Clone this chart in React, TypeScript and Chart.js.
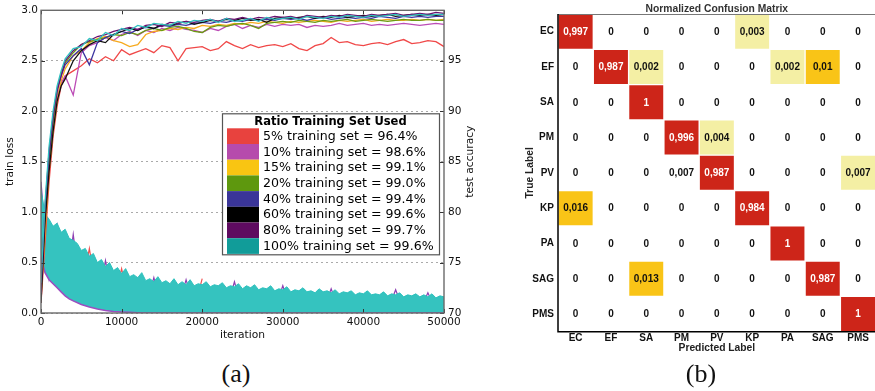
import React, { useEffect, useRef } from 'react';
import { Chart, registerables } from 'chart.js';

Chart.register(...registerables);

// ---------------- (a) training curves ----------------
const seriesNames = ['5%', '10%', '15%', '20%', '40%', '60%', '80%', '100%'];
const finalAccuracy = [96.4, 98.6, 99.1, 99.0, 99.4, 99.6, 99.7, 99.6];

const accIters = [
  0, 500, 1000, 1500, 2000, 2500, 3000,
  4000, 5000, 6000, 7000, 8000, 9000, 10000, 11000, 12000, 13000,
  14000, 15000, 16000, 17000, 18000, 19000, 20000, 21000, 22000, 23000,
  24000, 25000, 26000, 27000, 28000, 29000, 30000, 31000, 32000, 33000,
  34000, 35000, 36000, 37000, 38000, 39000, 40000, 41000, 42000, 43000,
  44000, 45000, 46000, 47000, 48000, 49000, 50000,
];

const acc5 = [
  71, 77, 83, 87.5, 90.5, 92.5, 93.5,
  94.0, 94.5, 95.2, 94.8, 95.4, 95.0, 96.1, 95.6, 95.9, 96.2,
  95.8, 96.5, 96.3, 95.0, 96.2, 96.3, 96.4, 96.0, 96.2, 96.9,
  96.5, 96.2, 96.6, 96.3, 96.5, 96.6, 96.4, 96.7, 96.2, 96.0,
  96.5, 96.7, 97.3, 96.8, 96.9, 96.6, 96.5, 96.7, 96.8, 96.6,
  96.9, 97.1, 96.7, 96.8, 97.0, 96.9, 96.4,
];
const acc10 = [
  73, 80, 85.5, 89, 91.5, 92.8, 93.5,
  91.6, 95.8, 96.5, 96.8, 97.3, 97.0, 97.6, 97.9, 97.5, 98.0,
  97.8, 98.2, 98.0, 98.3, 98.1, 98.0, 97.8, 98.2, 98.0, 98.4,
  98.6, 98.2, 98.5, 98.3, 98.6, 98.4, 98.6, 98.5, 98.6, 98.3,
  98.5, 98.4, 98.5, 98.7, 98.5, 98.6, 98.7, 98.5, 98.6, 98.5,
  98.6, 98.7, 98.6, 98.5, 98.6, 98.7, 98.6,
];
const acc15 = [
  71.5, 78, 84, 88, 91, 93, 94.2,
  95.5, 96.0, 96.8, 97.2, 97.4, 97.0, 96.8, 96.4, 96.6, 97.6,
  97.9, 98.0, 98.2, 98.1, 98.3, 98.2, 98.5, 98.4, 98.6, 98.5,
  98.7, 98.6, 98.8, 98.7, 98.9, 98.8, 98.7, 98.9, 98.8, 98.9,
  99.0, 98.9, 98.8, 99.0, 98.9, 99.0, 99.1, 98.9, 99.0, 99.1,
  99.0, 99.0, 99.1, 99.0, 99.1, 99.0, 99.1,
];
const acc20 = [
  72, 79.5, 85, 89, 92, 93.8, 94.8,
  95.8, 96.6, 96.9, 97.1, 97.3, 97.6, 97.5, 97.8, 97.6, 98.0,
  98.2, 98.0, 98.3, 98.4, 98.2, 97.9, 97.8, 98.3, 98.5, 98.4,
  98.6, 98.7, 98.5, 98.2, 98.7, 98.8, 98.9, 98.8, 99.0, 98.9,
  98.8, 99.0, 98.9, 99.0, 99.1, 98.9, 99.0, 99.1, 99.0, 98.9,
  99.0, 99.1, 99.0, 99.0, 99.1, 99.0, 99.0,
];
const acc40 = [
  72.5, 80, 85.5, 89.5, 92.2, 93.5, 94.6,
  95.5, 96.2, 94.6, 96.8, 97.3, 97.6, 97.9, 97.7, 98.1, 98.3,
  98.2, 98.5, 98.4, 98.6, 98.5, 98.7, 98.8, 98.7, 98.9, 98.8,
  99.0, 98.9, 99.1, 99.0, 99.1, 99.0, 99.2, 99.1, 99.2, 99.0,
  99.2, 99.3, 99.1, 99.2, 99.3, 99.2, 99.3, 99.2, 99.4, 99.3,
  99.2, 99.4, 99.3, 99.4, 99.3, 99.4, 99.4,
];
const acc60 = [
  71, 79, 84, 88, 91, 92.5, 93.2,
  95.0, 96.0, 96.6, 97.0, 96.8, 97.6, 97.9, 98.2, 98.0, 98.4,
  98.2, 98.6, 98.5, 98.7, 98.9, 98.6, 98.8, 99.0, 98.9, 99.1,
  99.0, 99.2, 99.0, 99.1, 98.8, 99.2, 99.3, 99.2, 99.3, 99.4,
  99.2, 99.4, 99.3, 99.5, 99.3, 99.4, 99.5, 99.4, 99.5, 99.6,
  99.4, 99.5, 99.6, 99.5, 99.6, 99.5, 99.6,
];
const acc80 = [
  72, 80.5, 86, 89.5, 92, 93.5, 95,
  96.0, 96.6, 97.0, 97.4, 97.6, 97.9, 98.1, 98.3, 98.1, 98.5,
  98.6, 98.4, 98.8, 98.7, 98.9, 98.8, 99.0, 99.1, 98.9, 99.2,
  99.1, 99.3, 99.1, 99.3, 99.2, 99.4, 99.3, 99.4, 99.2, 99.5,
  99.4, 99.3, 99.5, 99.4, 99.6, 99.5, 99.4, 99.6, 99.5, 99.6,
  99.7, 99.5, 99.6, 99.7, 99.6, 99.8, 99.7,
];
const acc100 = [
  73, 81, 86.5, 90, 92.5, 94, 95.2,
  96.2, 96.4, 97.2, 97.0, 97.8, 97.5, 98.2, 98.0, 98.5, 98.3,
  98.7, 98.6, 98.5, 98.9, 98.7, 99.0, 98.9, 99.1, 98.8, 99.2,
  98.9, 99.0, 99.2, 98.9, 99.3, 99.1, 99.2, 99.3, 99.1, 99.4,
  99.3, 99.2, 99.4, 99.3, 99.5, 99.4, 99.3, 99.5, 99.4, 99.5,
  99.6, 99.4, 99.5, 99.6, 99.5, 99.6, 99.6,
];

const lossIters = [
  0, 500, 1000, 1500, 2000, 2500, 3000, 3500, 4000, 4500,
  5000, 5500, 6000, 6500, 7000, 7500, 8000, 8500, 9000, 9500,
  10000, 10500, 11000, 11500, 12000, 12500, 13000, 13500, 14000, 14500,
  15000, 15500, 16000, 16500, 17000, 17500, 18000, 18500, 19000, 19500,
  20000, 20500, 21000, 21500, 22000, 22500, 23000, 23500, 24000, 24500,
  25000, 25500, 26000, 26500, 27000, 27500, 28000, 28500, 29000, 29500,
  30000, 30500, 31000, 31500, 32000, 32500, 33000, 33500, 34000, 34500,
  35000, 35500, 36000, 36500, 37000, 37500, 38000, 38500, 39000, 39500,
  40000, 40500, 41000, 41500, 42000, 42500, 43000, 43500, 44000, 44500,
  45000, 45500, 46000, 46500, 47000, 47500, 48000, 48500, 49000, 49500,
  50000,
];
// upper edge of the 100% training-loss band
const loss100Upper = [
  1.22, 0.98, 0.93, 0.86, 0.89, 0.80, 0.83, 0.74, 0.72, 0.69,
  0.62, 0.64, 0.56, 0.59, 0.50, 0.53, 0.46, 0.50, 0.42, 0.45,
  0.39, 0.44, 0.36, 0.38, 0.35, 0.40, 0.32, 0.34, 0.31, 0.36,
  0.30, 0.32, 0.29, 0.34, 0.28, 0.31, 0.28, 0.33, 0.27, 0.29,
  0.28, 0.31, 0.26, 0.28, 0.27, 0.30, 0.25, 0.27, 0.26, 0.29,
  0.24, 0.27, 0.25, 0.28, 0.23, 0.25, 0.24, 0.27, 0.22, 0.24,
  0.23, 0.26, 0.21, 0.23, 0.22, 0.25, 0.21, 0.22, 0.20, 0.24,
  0.21, 0.22, 0.20, 0.23, 0.19, 0.21, 0.20, 0.22, 0.18, 0.20,
  0.19, 0.22, 0.18, 0.19, 0.18, 0.21, 0.17, 0.19, 0.18, 0.20,
  0.16, 0.18, 0.17, 0.19, 0.16, 0.18, 0.16, 0.19, 0.15, 0.17,
  0.16,
];
// lower edge of the loss band
const lossLowerIters = [0, 500, 1000, 1500, 2000, 2500, 3000, 3500, 4000, 5000, 6000, 7000, 8000, 9000, 10000, 11000, 12000, 13000, 50000];
const lossLower = [0.55, 0.40, 0.33, 0.29, 0.25, 0.21, 0.17, 0.14, 0.12, 0.085, 0.06, 0.04, 0.025, 0.015, 0.01, 0.006, 0.003, 0, 0];

const lossSpikeIters = [
  0, 1000, 2000, 3000, 4000, 5000, 6000, 7000, 8000, 9000,
  10000, 11000, 12000, 13000, 14000, 15000, 16000, 17000, 18000, 19000,
  20000, 21000, 22000, 23000, 24000, 25000, 26000, 27000, 28000, 29000,
  30000, 31000, 32000, 33000, 34000, 35000, 36000, 37000, 38000, 39000,
  40000, 41000, 42000, 43000, 44000, 45000, 46000, 47000, 48000, 49000,
  50000,
];
const loss80 = [
  1.3, 0.35, 0.86, 0.20, 0.78, 0.15, 0.55, 0.10, 0.52, 0.08,
  0.38, 0.06, 0.34, 0.05, 0.35, 0.05, 0.28, 0.04, 0.33, 0.04,
  0.27, 0.04, 0.26, 0.03, 0.31, 0.03, 0.24, 0.03, 0.23, 0.03,
  0.27, 0.03, 0.21, 0.02, 0.19, 0.02, 0.24, 0.02, 0.19, 0.02,
  0.18, 0.02, 0.17, 0.02, 0.23, 0.02, 0.16, 0.02, 0.20, 0.02,
  0.15,
];
const loss5 = [
  1.2, 0.40, 0.85, 0.25, 0.70, 0.20, 0.64, 0.15, 0.45, 0.10,
  0.44, 0.08, 0.33, 0.06, 0.30, 0.05, 0.28, 0.05, 0.27, 0.04,
  0.34,
];

const accSeries = [acc5, acc10, acc15, acc20, acc40, acc60, acc80, acc100];
const lineColors = ['#F04848', '#BC4CB6', '#F6AA1E', '#6B9B12', '#3C35A0', '#111111', '#6A1070', '#30C2C0'];
const legendColors = ['#E8423E', '#B64BAC', '#F9C512', '#5E980E', '#3A3598', '#000000', '#5E0B60', '#119C99'];
const legendTitle = 'Ratio Training Set Used';
const xTitle = 'iteration';
const yTitle = 'train loss';
const y2Title = 'test accuracy';

// ---------------- (b) confusion matrix ----------------
const cmTitle = 'Normalized Confusion Matrix';
const cmLabels = ['EC', 'EF', 'SA', 'PM', 'PV', 'KP', 'PA', 'SAG', 'PMS'];
const cmValues = [
  [0.997, 0, 0, 0, 0, 0.003, 0, 0, 0],
  [0, 0.987, 0.002, 0, 0, 0, 0.002, 0.01, 0],
  [0, 0, 1, 0, 0, 0, 0, 0, 0],
  [0, 0, 0, 0.996, 0.004, 0, 0, 0, 0],
  [0, 0, 0, 0.007, 0.987, 0, 0, 0, 0.007],
  [0.016, 0, 0, 0, 0, 0.984, 0, 0, 0],
  [0, 0, 0, 0, 0, 0, 1, 0, 0],
  [0, 0, 0.013, 0, 0, 0, 0, 0.987, 0],
  [0, 0, 0, 0, 0, 0, 0, 0, 1],
];
// colour level of each cell as seen in the picture (0 none, 1 pale, 2 gold, 3 red)
const cmShade = [
  [3, 0, 0, 0, 0, 1, 0, 0, 0],
  [0, 3, 1, 0, 0, 0, 1, 2, 0],
  [0, 0, 3, 0, 0, 0, 0, 0, 0],
  [0, 0, 0, 3, 1, 0, 0, 0, 0],
  [0, 0, 0, 0, 3, 0, 0, 0, 1],
  [2, 0, 0, 0, 0, 3, 0, 0, 0],
  [0, 0, 0, 0, 0, 0, 3, 0, 0],
  [0, 0, 2, 0, 0, 0, 0, 3, 0],
  [0, 0, 0, 0, 0, 0, 0, 0, 3],
];
const shadeColors = ['#FFFFFF', '#F4EFA4', '#F9C417', '#CD2519'];

const DV = 'DejaVu Sans';
const LS = 'Liberation Sans';

const leftDecor = {
  id: 'leftDecor',
  afterDatasetsDraw(chart: any) {
    const { ctx, chartArea, scales } = chart;
    const { left, right, top, bottom } = chartArea;
    ctx.save();
    ctx.strokeStyle = '#333';
    ctx.lineWidth = 1;
    ctx.beginPath();
    scales.x.ticks.forEach((t: any) => {
      const px = Math.round(scales.x.getPixelForValue(t.value)) + 0.5;
      ctx.moveTo(px, bottom); ctx.lineTo(px, bottom - 4);
      ctx.moveTo(px, top); ctx.lineTo(px, top + 4);
    });
    scales.y.ticks.forEach((t: any) => {
      const py = Math.round(scales.y.getPixelForValue(t.value)) + 0.5;
      ctx.moveTo(left, py); ctx.lineTo(left + 4, py);
    });
    scales.y2.ticks.forEach((t: any) => {
      const py = Math.round(scales.y2.getPixelForValue(t.value)) + 0.5;
      ctx.moveTo(right, py); ctx.lineTo(right - 4, py);
    });
    ctx.stroke();
    ctx.strokeStyle = '#6a6a6a';
    ctx.lineWidth = 1.4;
    ctx.strokeRect(left, top, right - left, bottom - top);
    ctx.restore();
  },
  afterDraw(chart: any) {
    const { ctx, chartArea } = chart;
    ctx.save();
    // right axis title, reading bottom to top
    ctx.translate(chartArea.right + 26, (chartArea.top + chartArea.bottom) / 2);
    ctx.rotate(-Math.PI / 2);
    ctx.font = `10.7px "${DV}"`;
    ctx.fillStyle = '#111';
    ctx.textAlign = 'center';
    ctx.textBaseline = 'middle';
    ctx.fillText(y2Title, 0, 0);
    ctx.restore();

    // legend
    const bw = 217, bh = 141;
    const bx = chartArea.right - 5 - bw;
    const by = chartArea.top + 103;
    ctx.save();
    ctx.fillStyle = '#fff';
    ctx.fillRect(bx, by, bw, bh);
    ctx.strokeStyle = '#555';
    ctx.lineWidth = 1.2;
    ctx.strokeRect(bx + 0.5, by + 0.5, bw, bh);
    ctx.fillStyle = '#000';
    ctx.textBaseline = 'middle';
    ctx.textAlign = 'center';
    ctx.font = `bold 11.5px "${DV}"`;
    ctx.fillText(legendTitle, bx + bw / 2, by + 9);
    const rowH = 15.7;
    const r0 = by + 15;
    ctx.textAlign = 'left';
    ctx.font = `12.6px "${DV}"`;
    seriesNames.forEach((name, i) => {
      ctx.fillStyle = legendColors[i];
      ctx.fillRect(bx + 5, r0 + i * rowH, 32, rowH);
      ctx.fillStyle = '#000';
      ctx.fillText(`${name} training set = ${finalAccuracy[i].toFixed(1)}%`, bx + 41, r0 + i * rowH + rowH / 2 + 0.5);
    });
    ctx.restore();
  },
};

function LossChart() {
  const ref = useRef<HTMLCanvasElement>(null);
  useEffect(() => {
    const drawOrder = [7, 6, 5, 4, 3, 2, 1, 0];
    const accDatasets = drawOrder.map((i) => ({
      label: `${seriesNames[i]} accuracy`,
      data: accIters.map((x, k) => ({ x, y: accSeries[i][k] })),
      yAxisID: 'y2',
      borderColor: lineColors[i],
      borderWidth: 1.3,
      pointRadius: 0,
      tension: 0,
      fill: false,
    }));
    const lowerIdx = accDatasets.length;
    const datasets: any[] = [
      ...accDatasets,
      {
        label: 'loss lower',
        data: lossLowerIters.map((x, k) => ({ x, y: lossLower[k] })),
        yAxisID: 'y',
        borderColor: '#9C4EC0',
        borderWidth: 1.6,
        pointRadius: 0,
        fill: false,
      },
      {
        label: '100% loss',
        data: lossIters.map((x, k) => ({ x, y: loss100Upper[k] })),
        yAxisID: 'y',
        borderColor: '#2FC1BD',
        backgroundColor: '#35C3BF',
        borderWidth: 1,
        pointRadius: 0,
        fill: lowerIdx,
      },
      {
        label: '80% loss',
        data: lossSpikeIters.map((x, k) => ({ x, y: loss80[k] })),
        yAxisID: 'y',
        borderColor: '#8E3FB3',
        borderWidth: 1.2,
        pointRadius: 0,
        fill: false,
      },
      {
        label: '5% loss',
        data: loss5.map((y, k) => ({ x: lossSpikeIters[k], y })),
        yAxisID: 'y',
        borderColor: '#F05050',
        borderWidth: 1.2,
        pointRadius: 0,
        fill: false,
      },
    ];
    const tickFont = { family: DV, size: 10.5 };
    const titleFont = { family: DV, size: 10.7, lineHeight: 1.2 };
    const chart = new Chart(ref.current as HTMLCanvasElement, {
      type: 'line',
      data: { datasets },
      options: {
        responsive: false,
        animation: false,
        devicePixelRatio: 1,
        layout: { padding: { top: 10, left: 0, right: 0, bottom: 0 } },
        plugins: { legend: { display: false }, tooltip: { enabled: false } },
        scales: {
          x: {
            type: 'linear', min: 0, max: 50000,
            ticks: { stepSize: 10000, font: tickFont, color: '#111', padding: 3, maxRotation: 0, callback: (v: any) => String(v) },
            grid: { display: false, drawTicks: false },
            border: { display: false },
            title: { display: true, text: xTitle, font: titleFont, color: '#111', padding: { top: 0, bottom: 3.6 } },
            afterFit: (s: any) => { s.height = 32; },
          },
          y: {
            type: 'linear', position: 'left', min: 0, max: 3,
            ticks: { stepSize: 0.5, font: tickFont, color: '#111', padding: 3, callback: (v: any) => Number(v).toFixed(1) },
            grid: { color: '#aaaaaa', lineWidth: 1, drawTicks: false },
            border: { display: false, dash: [2, 3] },
            title: { display: true, text: yTitle, font: titleFont, color: '#111', padding: { top: 3.6, bottom: 0 } },
            afterFit: (s: any) => { s.width = 41; },
          },
          y2: {
            type: 'linear', position: 'right', min: 70, max: 100,
            ticks: { stepSize: 5, font: tickFont, color: '#111', padding: 4, callback: (v: any) => (Number(v) >= 100 ? '' : String(v)) },
            grid: { display: false, drawOnChartArea: false, drawTicks: false },
            border: { display: false },
            afterFit: (s: any) => { s.width = 38; },
          },
        },
      } as any,
      plugins: [leftDecor],
    });
    return () => chart.destroy();
  }, []);
  return <canvas ref={ref} width={482} height={345} style={{ position: 'absolute', left: 0, top: 0 }} />;
}

const formatCell = (v: number) => String(v).replace('.', ',');

const cmDecor = {
  id: 'cmDecor',
  afterDatasetsDraw(chart: any) {
    const { ctx, chartArea } = chart;
    const { left, right, top, bottom } = chartArea;
    ctx.save();
    ctx.font = `bold 10px "${LS}"`;
    ctx.textAlign = 'center';
    ctx.textBaseline = 'middle';
    chart.data.datasets.forEach((_ds: any, i: number) => {
      const meta = chart.getDatasetMeta(i);
      meta.data.forEach((bar: any, j: number) => {
        const { x, y, base } = bar.getProps(['x', 'y', 'base'], true);
        ctx.fillStyle = cmShade[i][j] === 3 ? '#ffffff' : '#111111';
        ctx.fillText(formatCell(cmValues[i][j]), x, (y + base) / 2 + 0.5);
      });
    });
    ctx.strokeStyle = '#777';
    ctx.lineWidth = 1;
    ctx.beginPath();
    ctx.moveTo(left, top + 0.5); ctx.lineTo(right + 20, top + 0.5);
    ctx.stroke();
    ctx.strokeStyle = '#000';
    ctx.lineWidth = 1.5;
    ctx.beginPath();
    ctx.moveTo(left, top); ctx.lineTo(left, bottom); ctx.lineTo(right + 20, bottom);
    ctx.stroke();
    ctx.fillStyle = '#333';
    ctx.font = `bold 10.3px "${LS}"`;
    ctx.fillText(cmTitle, (left + right) / 2, top - 4.7);
    ctx.restore();
  },
};

function ConfusionChart() {
  const ref = useRef<HTMLCanvasElement>(null);
  useEffect(() => {
    const datasets = cmLabels.map((row, i) => ({
      label: row,
      data: cmValues[i].map(() => 1),
      backgroundColor: cmShade[i].map((s) => shadeColors[s]),
      borderColor: cmShade[i].map((s) => (s ? 'rgba(255,255,255,0.45)' : 'rgba(255,255,255,0)')),
      borderWidth: 1,
      borderSkipped: false,
      barPercentage: 1,
      categoryPercentage: 1,
    }));
    const labFont = { family: LS, size: 10, weight: 'bold' };
    const titleFont = { family: LS, size: 10.3, weight: 'bold', lineHeight: 1 };
    const chart = new Chart(ref.current as HTMLCanvasElement, {
      type: 'bar',
      data: { labels: cmLabels, datasets },
      options: {
        responsive: false,
        animation: false,
        devicePixelRatio: 1,
        layout: { padding: { top: 14, right: 14.3, left: 0, bottom: 0 } },
        plugins: { legend: { display: false }, tooltip: { enabled: false } },
        scales: {
          x: {
            type: 'category', stacked: true,
            grid: { display: false, drawTicks: false }, border: { display: false },
            ticks: { font: labFont, color: '#111', padding: 1, maxRotation: 0, autoSkip: false },
            title: { display: true, text: 'Predicted Label', font: titleFont, color: '#222', padding: { top: 0, bottom: 6.5 } },
            afterFit: (s: any) => { s.height = 28.3; },
          },
          y: {
            type: 'linear', min: 0, max: 9, reverse: true, stacked: true,
            afterBuildTicks: (s: any) => { s.ticks = cmLabels.map((_, i) => ({ value: i + 0.5 })); },
            ticks: { font: labFont, color: '#111', padding: 4, autoSkip: false, callback: (v: any) => cmLabels[Math.floor(Number(v))] },
            grid: { display: false, drawTicks: false }, border: { display: false },
            title: { display: true, text: 'True Label', font: titleFont, color: '#222', padding: { top: 15.3, bottom: 0 } },
            afterFit: (s: any) => { s.width = 48; },
          },
        },
      } as any,
      plugins: [cmDecor],
    });
    return () => chart.destroy();
  }, []);
  return <canvas ref={ref} width={380} height={360} style={{ position: 'absolute', left: 510, top: 0 }} />;
}

const captionStyle = (left: number): React.CSSProperties => ({
  position: 'absolute',
  left,
  top: 361,
  width: 100,
  textAlign: 'center',
  fontFamily: '"Liberation Serif", serif',
  fontSize: 26,
  lineHeight: '26px',
  color: '#111',
});

export default function App() {
  return (
    <div style={{ position: 'absolute', left: 0, top: 0, width: 875, height: 391, overflow: 'hidden', background: '#fff' }}>
      <LossChart />
      <ConfusionChart />
      <div style={captionStyle(186)}>(a)</div>
      <div style={captionStyle(651)}>(b)</div>
    </div>
  );
}
